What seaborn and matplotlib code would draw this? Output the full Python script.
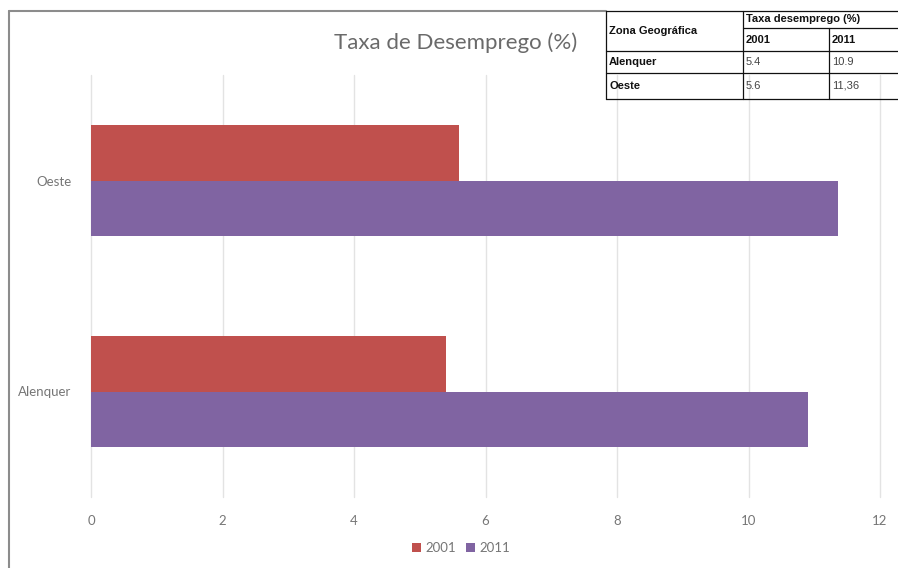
import matplotlib
matplotlib.use("Agg")
import matplotlib.pyplot as plt
import seaborn as sns
import pandas as pd
from matplotlib.patches import Patch
from matplotlib.lines import Line2D

# ---- data ----
zonas = ["Alenquer", "Oeste"]
anos = ["2001", "2011"]
taxa_2001 = [5.4, 5.6]
taxa_2011 = [10.9, 11.36]
table_2001 = ["5.4", "5.6"]
table_2011 = ["10.9", "11,36"]
xticks = [0, 2, 4, 6, 8, 10, 12]

colors = ["#C0504D", "#8064A2"]
grey_txt = "#767676"

df = pd.DataFrame({
    "Zona": zonas * 2,
    "Ano": [anos[0]] * len(zonas) + [anos[1]] * len(zonas),
    "Taxa": taxa_2001 + taxa_2011,
})

sns.set_theme(style="white")
plt.rcParams["font.family"] = ["Lato", "DejaVu Sans"]

W, H = 898, 568
fig = plt.figure(figsize=(W / 100, H / 100), dpi=100)
ax = fig.add_axes([91 / W, 1 - 497 / H, (880 - 91) / W, (497 - 75) / H])

sns.barplot(data=df, y="Zona", x="Taxa", hue="Ano", order=["Oeste", "Alenquer"],
            hue_order=anos, palette=colors, width=0.525, saturation=1,
            orient="h", ax=ax, errorbar=None, linewidth=0, edgecolor="none")
ax.get_legend().remove()
ax.set_xlim(0, 12)
ax.set_ylim(1.5, -0.5)
ax.set_xticks(xticks)
ax.set_xticklabels([str(t) for t in xticks])
ax.xaxis.grid(True, color="#E3E3E3", linewidth=1)
for gl in ax.get_xgridlines():
    gl.set_clip_on(False)
ax.set_axisbelow(True)
for s in ax.spines.values():
    s.set_visible(False)
ax.set_xlabel("")
ax.set_ylabel("")
ax.tick_params(axis="x", length=0, pad=13, labelsize=9.5, labelcolor=grey_txt)
ax.tick_params(axis="y", length=0, pad=14, labelsize=9.5, labelcolor=grey_txt)

fig.text(456 / W, 1 - 43 / H, "Taxa de Desemprego (%)", ha="center", va="center",
         fontsize=16, color="#6A6A6A")

handles = [Patch(facecolor=c, edgecolor="none") for c in colors]
leg = fig.legend(handles, anos, loc="center", bbox_to_anchor=(461 / W, 1 - 548 / H),
                 ncol=2, frameon=False, handlelength=0.7, handleheight=0.7,
                 handletextpad=0.3, columnspacing=0.8, fontsize=9.5,
                 labelcolor=grey_txt)

# overlay in pixel coordinates for frame and table
ov = fig.add_axes([0, 0, 1, 1], facecolor="none")
ov.set_xlim(0, W)
ov.set_ylim(H, 0)
ov.axis("off")
frame_c = "#8C8C8C"
ov.add_line(Line2D([9, 9], [11, H], color=frame_c, lw=1.5))
ov.add_line(Line2D([9, 606], [11, 11], color=frame_c, lw=1.5))

tc = "#111111"
lw = 0.9
for y, x0 in [(11, 606), (51, 606), (73, 606), (99, 606), (28, 743)]:
    ov.add_line(Line2D([x0, W], [y, y], color=tc, lw=lw))
for x, y0 in [(606, 11), (743, 11), (829, 28)]:
    ov.add_line(Line2D([x, x], [y0, 99], color=tc, lw=lw))

tf = ["Liberation Sans", "DejaVu Sans"]
fs = 8
kw = dict(ha="left", va="center", fontsize=fs, family=tf, fontstretch="normal")
ov.text(609, 31, "Zona Geográfica", fontweight="bold", color=tc, **kw)
ov.text(746, 19, "Taxa desemprego (%)", fontweight="bold", color=tc, **kw)
ov.text(746, 40, anos[0], fontweight="bold", color=tc, **kw)
ov.text(832, 40, anos[1], fontweight="bold", color=tc, **kw)
for i, (z, a, b) in enumerate(zip(zonas, table_2001, table_2011)):
    yy = 62 + i * 24
    ov.text(609, yy, z, fontweight="bold", color=tc, **kw)
    ov.text(746, yy, a, color="#444444", **kw)
    ov.text(832, yy, b, color="#444444", **kw)

fig.savefig("out.png", dpi=100)
